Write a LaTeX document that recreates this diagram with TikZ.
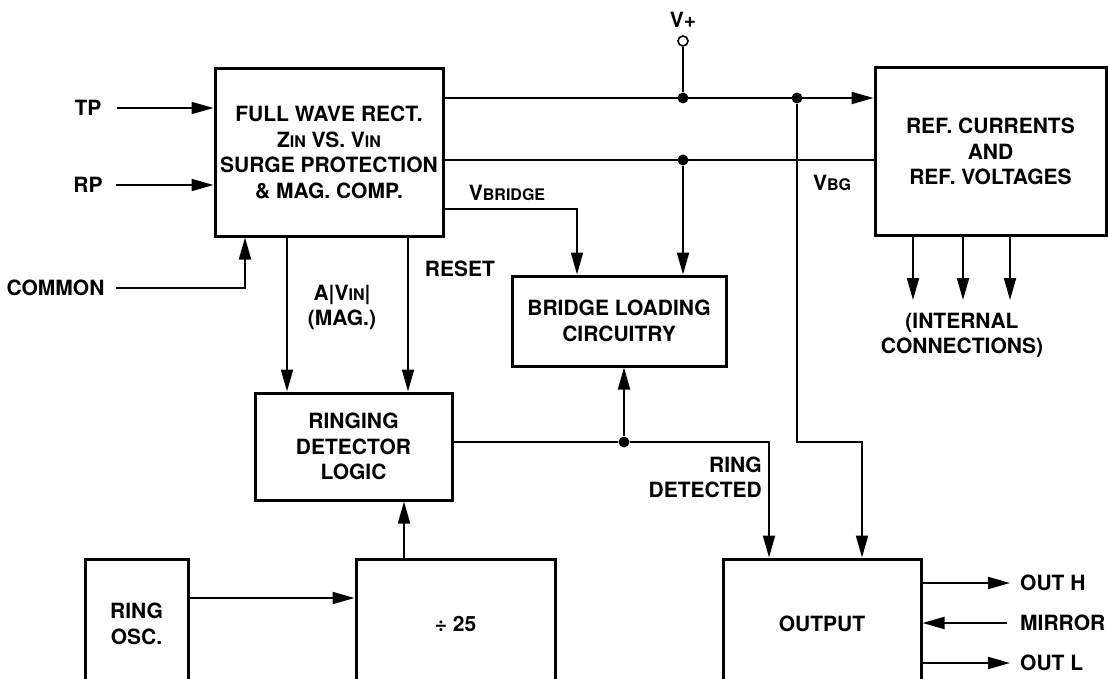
\documentclass[tikz,border=0pt]{standalone}
\usepackage{fontspec}
\setmainfont{TeX Gyre Heros}
\usetikzlibrary{arrows.meta,positioning}
\newcommand{\sml}[1]{{\fontsize{16}{16}\selectfont #1}}

\begin{document}
\begin{tikzpicture}[x=1pt,y=-1pt,
  font=\fontsize{21}{25.5}\selectfont\bfseries,
  blk/.style={draw,line width=3pt,align=center,inner sep=0pt},
  lbl/.style={inner sep=0pt,align=center},
  wire/.style={line width=2pt},
  arr/.style={wire,-{Triangle[length=22pt,width=12pt]}},
  dot/.style={circle,fill,inner sep=0pt,minimum size=11pt}]
\useasboundingbox (0,0) rectangle (1108,679);
\clip (0,0) rectangle (1108,679);

% blocks
\node[blk,minimum width=228,minimum height=167] (fwr) at (329,152.5)
  {FULL WAVE RECT.\\Z\sml{IN} VS. V\sml{IN}\\SURGE PROTECTION\\\& MAG. COMP.};
\node[blk,minimum width=231,minimum height=167] (ref) at (990.5,151.5)
  {REF. CURRENTS\\AND\\REF. VOLTAGES};
\node[blk,minimum width=214,minimum height=90] (bridge) at (619,321)
  {BRIDGE LOADING\\CIRCUITRY};
\node[blk,minimum width=197,minimum height=107] (rdl) at (353.5,446.5)
  {RINGING\\DETECTOR\\LOGIC};
\node[blk,minimum width=103,minimum height=130] (osc) at (136.5,624) {RING\\OSC.};
\node[blk,minimum width=199,minimum height=130] (div) at (455.5,624) {÷ 25};
\node[blk,minimum width=198,minimum height=130] (out) at (822,624) {OUTPUT};

% labels
\node[lbl] (tp) at (88,108) {TP};
\node[lbl] (rp) at (88,185) {RP};
\node[lbl] (com) at (55.5,288) {COMMON};
\node[lbl] (vpl) at (683,20) {V+};
\node[lbl] (vbl) at (507,193) {V\sml{BRIDGE}};
\node[lbl] (vbg) at (832,183) {V\sml{BG}};
\node[lbl] (mag) at (342,307.5) {A|V\sml{IN}|\\(MAG.)};
\node[lbl] (rst) at (460,269) {RESET};
\node[lbl] (intc) at (962,335.5) {(INTERNAL\\CONNECTIONS)};
\node[lbl,align=right,anchor=east] (rdt) at (762,477.5) {RING\\DETECTED};
\node[lbl,anchor=west] (outh) at (1020,583) {OUT H};
\node[lbl,anchor=west] (mir) at (1020,623) {MIRROR};
\node[lbl,anchor=west] (outl) at (1020,663) {OUT L};

% junctions
\node[circle,draw,fill=white,line width=1.6pt,inner sep=0pt,minimum size=10pt] (vpin) at (683,41) {};
\node[dot] (j1) at (683,98) {};
\node[dot] (j2) at (797,98) {};
\node[dot] (j3) at (683,160) {};
\node[dot] (j4) at (624,442) {};
\coordinate (vb) at (577,209);
\coordinate (k1) at (862,442);
\coordinate (k2) at (769,442);
\coordinate (a1) at (287,300);
\coordinate (a2) at (408,300);
\coordinate (a3) at (404,530);
\coordinate (a4) at (200,598);
\coordinate (a5) at (245,288);
\coordinate (c1) at (913,300);
\coordinate (c2) at (963,300);
\coordinate (c3) at (1010,300);

% inputs
\draw[arr] ([xshift=15pt]tp.east) -- (fwr.west |- tp);
\draw[arr] ([xshift=13pt]rp.east) -- (fwr.west |- rp);
\draw[arr] ([xshift=11pt]com.east) -- (a5) -- (fwr.south -| a5);

% supply and reference lines
\draw[wire] (vpin) -- (j1);
\draw[arr] (fwr.east |- j1) -- (ref.west |- j1);
\draw[wire] (fwr.east |- j3) -- (ref.west |- j3);
\draw[arr] (j3) -- (bridge.north -| j3);
\draw[arr] (fwr.east |- vb) -- (vb) -- (bridge.north -| vb);
\draw[arr] (j2) |- (k1) -- (out.north -| k1);
\draw[arr] (ref.south -| c1) -- (c1);
\draw[arr] (ref.south -| c2) -- (c2);
\draw[arr] (ref.south -| c3) -- (c3);

% detector path
\draw[arr] (fwr.south -| a1) -- (rdl.north -| a1);
\draw[arr] (fwr.south -| a2) -- (rdl.north -| a2);
\draw[wire] (rdl.east |- j4) -- (j4);
\draw[arr] (j4) -- (bridge.south -| j4);
\draw[arr] (j4) -- (k2) -- (out.north -| k2);
\draw[arr] (osc.east |- a4) -- (div.west |- a4);
\draw[arr] (div.north -| a3) -- (rdl.south -| a3);

% outputs
\draw[arr] (out.east |- outh) -- ([xshift=-10pt]outh.west);
\draw[arr] ([xshift=-13pt]mir.west) -- (out.east |- mir);
\draw[arr] (out.east |- outl) -- ([xshift=-10pt]outl.west);
\end{tikzpicture}
\end{document}
